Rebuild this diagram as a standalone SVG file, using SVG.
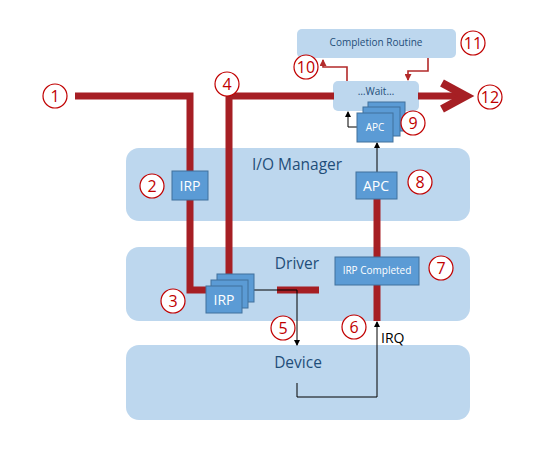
<svg xmlns="http://www.w3.org/2000/svg" width="543" height="457" viewBox="0 0 543 457">
<defs>
<style>
.band{fill:#BDD7EE}
.lt{fill:#1F4E79;font-family:"Open Sans","Noto Sans",sans-serif;font-size:15.5px;text-anchor:middle}
.box{fill:#5B9BD5;stroke:#41719C;stroke-width:1}
.bt{fill:#fff;font-family:"Open Sans","Noto Sans",sans-serif;text-anchor:middle}
.num circle{fill:#fff;stroke:#C00000;stroke-width:1.2}
.num text{fill:#C00000;font-family:"Open Sans","Noto Sans",sans-serif;font-size:16px;text-anchor:middle}
.red{stroke:#A61F24;stroke-width:7;fill:none}
.thinred{stroke:#B22A2A;stroke-width:1.6;fill:none}
.blk{stroke:#000;stroke-width:1;fill:none}
</style>
<marker id="ab" markerWidth="6" markerHeight="6" refX="5" refY="3" orient="auto" markerUnits="userSpaceOnUse"><path d="M0,0 L6,3 L0,6 z" fill="#000"/></marker>
<marker id="ar" markerWidth="7" markerHeight="7" refX="6" refY="3.5" orient="auto" markerUnits="userSpaceOnUse"><path d="M0,0 L7,3.5 L0,7 z" fill="#B22A2A"/></marker>
</defs>
<g id="iomanager"><rect class="band" x="126" y="148" width="344" height="73" rx="13"/><text class="lt" x="297" y="170">I/O Manager</text></g>
<g id="driver"><rect class="band" x="126" y="247" width="344" height="74" rx="13"/><text class="lt" x="297" y="269">Driver</text></g>
<g id="device"><rect class="band" x="126" y="345" width="344" height="75" rx="13"/><text class="lt" x="298" y="368">Device</text></g>
<g id="completion"><rect class="band" x="297" y="29" width="159" height="29" rx="5"/><text class="lt" style="font-size:10px" x="376" y="46">Completion Routine</text></g>
<g id="wait"><rect class="band" x="333" y="81" width="86" height="30" rx="5"/><text class="lt" style="font-size:10px" x="376" y="95">…Wait…</text></g>
<g id="connectors">
<polyline class="red" points="75,96 190,96 190,290 207,290"/>
<polyline class="red" points="229,274 229,96 334,96"/>
<line class="red" x1="418" y1="96" x2="465" y2="96"/>
<polyline class="red" points="442,83 466,96 442,109" stroke-linejoin="miter" style="stroke-width:8"/>
<line class="red" x1="277" y1="290" x2="319" y2="290"/>
<line class="red" x1="377" y1="199" x2="377" y2="321"/>
<polyline class="thinred" points="347,81 347,67 323,67 323,60" marker-end="url(#ar)"/>
<polyline class="thinred" points="428,58 428,71 408,71 408,80" marker-end="url(#ar)"/>
<polyline class="blk" points="254,290 297,290 297,345" marker-end="url(#ab)"/>
<polyline class="blk" points="297,383 297,397 377,397 377,322" marker-end="url(#ab)"/>
<line class="blk" x1="377" y1="172" x2="377" y2="143" marker-end="url(#ab)"/>
<polyline class="blk" points="357,127 348,127 348,112" marker-end="url(#ab)"/>
</g>
<text x="381" y="343" style="font-family:'Open Sans','Noto Sans',sans-serif;font-size:14px" fill="#000">IRQ</text>
<g id="irp2"><rect class="box" x="172" y="171" width="36" height="29"/><text class="bt" style="font-size:14px" x="190" y="191">IRP</text></g>
<g id="irp3">
<rect class="box" x="217" y="274" width="37" height="28"/>
<rect class="box" x="211" y="280" width="37" height="28"/>
<rect class="box" x="206" y="286" width="36" height="27"/>
<text class="bt" style="font-size:14px" x="224" y="305">IRP</text></g>
<g id="irpcompleted"><rect class="box" x="335" y="257" width="84" height="28"/><text class="bt" style="font-size:10px" x="377" y="274">IRP Completed</text></g>
<g id="apc8"><rect class="box" x="356" y="172" width="41" height="27"/><text class="bt" style="font-size:14px" x="376" y="191">APC</text></g>
<g id="apc9">
<rect class="box" x="368" y="102" width="37" height="29"/>
<rect class="box" x="363" y="107" width="37" height="29"/>
<rect class="box" x="357" y="113" width="36" height="29"/>
<text class="bt" style="font-size:10px" x="375" y="131">APC</text></g>
<g class="num" id="n1"><circle cx="55" cy="96" r="12"/><text x="55" y="101.5">1</text></g>
<g class="num" id="n2"><circle cx="152" cy="186" r="12"/><text x="152" y="191.5">2</text></g>
<g class="num" id="n3"><circle cx="173" cy="301" r="12"/><text x="173" y="306.5">3</text></g>
<g class="num" id="n4"><circle cx="227" cy="84" r="12"/><text x="227" y="89.5">4</text></g>
<g class="num" id="n5"><circle cx="283" cy="328" r="12"/><text x="283" y="333.5">5</text></g>
<g class="num" id="n6"><circle cx="354" cy="327" r="12"/><text x="354" y="332.5">6</text></g>
<g class="num" id="n7"><circle cx="441" cy="268" r="12"/><text x="441" y="273.5">7</text></g>
<g class="num" id="n8"><circle cx="420" cy="182" r="12"/><text x="420" y="187.5">8</text></g>
<g class="num" id="n9"><circle cx="413" cy="123" r="12"/><text x="413" y="128.5">9</text></g>
<g class="num" id="n10"><circle cx="306" cy="67" r="12"/><text x="306" y="72.5">10</text></g>
<g class="num" id="n11"><circle cx="473" cy="43" r="12"/><text x="473" y="48.5">11</text></g>
<g class="num" id="n12"><circle cx="490" cy="97" r="12"/><text x="490" y="102.5">12</text></g>
</svg>
